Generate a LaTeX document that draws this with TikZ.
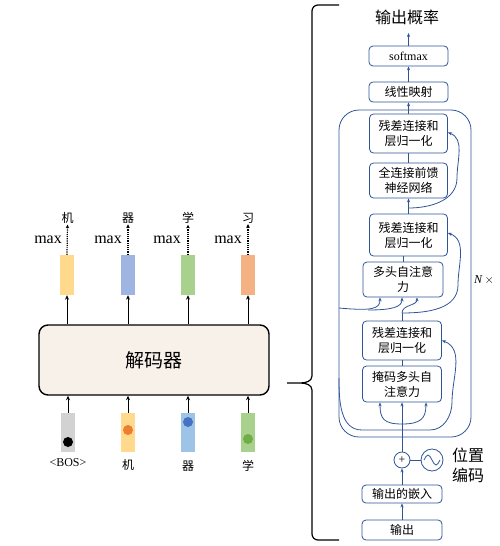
\documentclass[tikz,border=0pt]{standalone}
\usepackage{fontspec}
\setmainfont{Liberation Serif}
\newfontfamily\cjk{Noto Sans CJK SC}
\usepackage{tikz}
\usetikzlibrary{arrows.meta}

\definecolor{lineblue}{RGB}{47,85,151}
\definecolor{decfill}{RGB}{248,241,234}
\definecolor{barYellow}{RGB}{255,217,140}
\definecolor{barBlue}{RGB}{160,180,225}
\definecolor{barGreen}{RGB}{169,209,142}
\definecolor{barOrange}{RGB}{244,177,131}
\definecolor{barGray}{RGB}{210,210,210}
\definecolor{barSky}{RGB}{157,195,230}
\definecolor{dotOrange}{RGB}{237,125,49}
\definecolor{dotBlue}{RGB}{68,114,196}
\definecolor{dotGreen}{RGB}{112,173,71}

\begin{document}
\begin{tikzpicture}[x=1pt,y=-1pt,
    arr/.style={lineblue, line width=0.8pt, -{Stealth[length=4pt,width=3.2pt]}},
    plainline/.style={lineblue, line width=0.8pt},
    blkarr/.style={black, line width=1pt, -{Stealth[length=4.5pt,width=4pt]}},
    dotarr/.style={black, densely dotted, line width=1.2pt, -{Stealth[length=3.5pt,width=3.5pt]}}]
  \useasboundingbox (0,0) rectangle (500,546);

  \begin{scope}[every node/.style={minimum width=14pt, inner sep=0pt}]
    \node[fill=barYellow, minimum height=40pt] (O1) at (67,275) {};
    \node[fill=barBlue, minimum height=40pt] (O2) at (128,275) {};
    \node[fill=barGreen, minimum height=40pt] (O3) at (188,275) {};
    \node[fill=barOrange, minimum height=40pt] (O4) at (248,275) {};
    \node[fill=barGray, minimum height=39pt] (I1) at (68,432.5) {};
    \node[fill=barYellow, minimum height=39pt] (I2) at (128,432.5) {};
    \node[fill=barSky, minimum height=39pt] (I3) at (188,432.5) {};
    \node[fill=barGreen, minimum height=39pt] (I4) at (248,432.5) {};
    \node[circle, fill=black, minimum size=10pt] (D1) at (68,442) {};
    \node[circle, fill=dotOrange, minimum size=10pt] (D2) at (128,430) {};
    \node[circle, fill=dotBlue, minimum size=10pt] (D3) at (188,422) {};
    \node[circle, fill=dotGreen, minimum size=10pt] (D4) at (248,439) {};
  \end{scope}

  \node[draw, line width=1.4pt, rounded corners=9pt, fill=decfill, minimum width=230pt,
    minimum height=70pt, font=\cjk\fontsize{19}{22}\selectfont] (Dec) at (154,360) {解码器};

  \begin{scope}[every node/.style={font=\cjk\fontsize{12}{14}\selectfont, inner sep=1pt}]
    \node (W1) at (67.5,218) {机};
    \node (W2) at (128,218) {器};
    \node (W3) at (188,218) {学};
    \node (W4) at (248,218) {习};
    \node (L1) at (68,463) {\rmfamily <BOS>};
    \node (L2) at (128,465) {机};
    \node (L3) at (188,466) {器};
    \node (L4) at (248,466) {学};
  \end{scope}
  \begin{scope}[every node/.style={font=\fontsize{16}{18}\selectfont, inner sep=0pt, anchor=east}]
    \node (M1) at (62,240) {max};
    \node (M2) at (122,240) {max};
    \node (M3) at (181,240) {max};
    \node (M4) at (242,240) {max};
  \end{scope}

  \draw[blkarr] (O1 |- Dec.north) -- (O1.south);
  \draw[blkarr] (O2 |- Dec.north) -- (O2.south);
  \draw[blkarr] (O3 |- Dec.north) -- (O3.south);
  \draw[blkarr] (O4 |- Dec.north) -- (O4.south);
  \draw[dotarr] (O1.north) -- (W1.south);
  \draw[dotarr] (O2.north) -- (W2.south);
  \draw[dotarr] (O3.north) -- (W3.south);
  \draw[dotarr] (O4.north) -- (W4.south);
  \draw[blkarr, line width=0.8pt] (I1.north) -- (I1 |- Dec.south);
  \draw[blkarr, line width=0.8pt] (I2.north) -- (I2 |- Dec.south);
  \draw[blkarr, line width=0.8pt] (I3.north) -- (I3 |- Dec.south);
  \draw[blkarr, line width=0.8pt] (I4.north) -- (I4 |- Dec.south);

  \draw[line width=1.2pt] (339,5) -- (318,5) to[out=180,in=90] (312,11) -- (312,376)
    to[out=-90,in=0] (300,383) -- (287,383) -- (300,383) to[out=0,in=90] (312,390)
    -- (312,534) to[out=-90,in=180] (318,540) -- (339,540);

  \begin{scope}[every node/.style={draw=lineblue, line width=0.8pt, fill=white, rounded corners=4pt,
      align=center, inner sep=1pt, font=\cjk\fontsize{12}{15}\selectfont}]
    \node[minimum width=132pt, minimum height=327pt, rounded corners=20pt, fill=none] (Layer) at (405,273.5) {};
    \node[minimum width=79pt, minimum height=20pt] (Soft) at (408.5,56) {\rmfamily softmax};
    \node[minimum width=79pt, minimum height=20pt] (Lin) at (408.5,92) {线性映射};
    \node[minimum width=78pt, minimum height=39pt] (Res1) at (408.5,133.5) {残差连接和\\层归一化};
    \node[minimum width=78pt, minimum height=35pt] (FFN) at (408.5,180.5) {全连接前馈\\神经网络};
    \node[minimum width=78pt, minimum height=42pt] (Res2) at (408.5,235) {残差连接和\\层归一化};
    \node[minimum width=80pt, minimum height=35pt] (Multi) at (403,279.5) {多头自注意\\力};
    \node[minimum width=79pt, minimum height=39pt] (Res3) at (402,340.5) {残差连接和\\层归一化};
    \node[minimum width=79pt, minimum height=36pt] (Mask) at (402,384) {掩码多头自\\注意力};
    \node[minimum width=80pt, minimum height=18pt] (Emb) at (402,494) {输出的嵌入};
    \node[minimum width=80pt, minimum height=20pt] (Out) at (402,530) {输出};
    \node[circle, sharp corners, minimum size=16pt, inner sep=0pt] (Plus) at (402,460) {\rmfamily +};
    \node[circle, sharp corners, minimum size=22pt, inner sep=0pt] (Pos) at (432,460) {};
  \end{scope}
  \draw[plainline, shift={(Pos.center)}] (-8,0) sin (-4,-5) cos (0,0) sin (4,5) cos (8,0);

  \node[font=\cjk\fontsize{16}{18}\selectfont] (Prob) at (407,17) {输出概率};
  \node[font=\cjk\fontsize{16}{20}\selectfont, align=left] (PosTxt) at (468,465) {位置\\编码};
  \node[font=\fontsize{12}{14}\selectfont] (Nx) at (484,280) {\textit{N}\,$\times$};

  \coordinate (ProbTip) at (408.5,33);
  \coordinate (QKV) at (402,424);
  \coordinate (R3a) at (339,378);
  \coordinate (R3b) at (362,430);
  \coordinate (R3c) at (430,430);
  \coordinate (R3d) at (452,402);
  \coordinate (S2) at (402,313);
  \coordinate (R2a) at (458,285);
  \coordinate (Mem) at (339,308);
  \coordinate (MemS) at (368,310);
  \coordinate (S1) at (408.5,208);
  \coordinate (R1a) at (457,178);

  \draw[arr] (Out.north) -- (Emb.south);
  \draw[arr] (Emb.north) -- (Plus.south);
  \draw[arr] (Plus.north) -- (Mask.south);
  \draw[plainline] (Plus.east) -- (Pos.west);
  \draw[arr] (QKV) .. controls (384,424) and (380,419) .. ([xshift=-22pt]Mask.south);
  \draw[arr] (QKV) .. controls (420,424) and (426,419) .. ([xshift=24pt]Mask.south);
  \draw[arr] (R3a) to[out=-90,in=180] (R3b) -- (R3c) to[out=0,in=-90] (R3d) to[out=90,in=-20] (Res3.east);
  \draw[plainline] (Mask.north) -- (Res3.south);
  \draw[plainline] (Res3.north) -- (S2);
  \draw[arr] (S2) to[out=90,in=-90] ([xshift=14pt]Multi.south);
  \draw[arr] (S2) to[out=0,in=-90] (R2a) to[out=90,in=-20] ([yshift=2pt]Res2.east);
  \draw[arr] (Mem) .. controls (372,311) and (380,309) .. ([xshift=-23pt]Multi.south);
  \draw[arr] (MemS) .. controls (392,310) and (402,307) .. ([xshift=-1pt]Multi.south);
  \draw[plainline] (Multi.north) -- (Multi.north |- Res2.south);
  \draw[plainline] (Res2.north) -- (S1);
  \draw[arr] (S1) -- (FFN.south);
  \draw[arr] (S1) to[out=0,in=-90] (R1a) to[out=90,in=-20] ([yshift=1pt]Res1.east);
  \draw[plainline] (FFN.north) -- (Res1.south);
  \draw[arr] (Res1.north) -- (Lin.south);
  \draw[arr] (Lin.north) -- (Soft.south);
  \draw[arr] (Soft.north) -- (ProbTip);
\end{tikzpicture}
\end{document}
